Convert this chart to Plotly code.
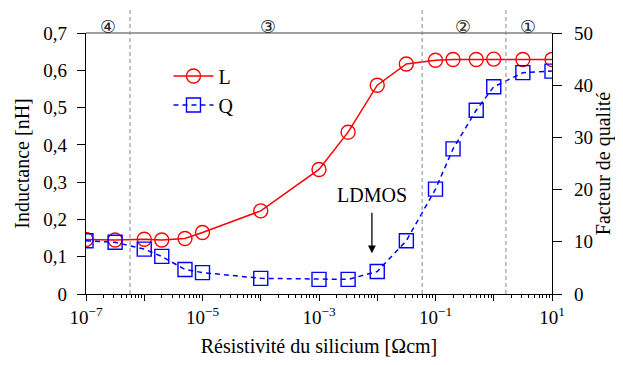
import plotly.graph_objects as go
import math

# Data
resistivity = [1e-7, 3.16e-7, 1e-6, 2e-6, 5e-6, 1e-5, 1e-4, 1e-3, 3.16e-3, 1e-2,
               3.16e-2, 0.1, 0.2, 0.5, 1, 3.16, 10]
inductance = [0.146, 0.145, 0.147, 0.145, 0.149, 0.165, 0.223, 0.334, 0.434, 0.560,
              0.617, 0.627, 0.629, 0.629, 0.630, 0.629, 0.629]
quality = [10.2, 9.9, 8.6, 7.2, 4.7, 4.1, 3.0, 2.8, 2.8, 4.3,
           10.2, 20.1, 27.8, 35.2, 39.7, 42.4, 42.7]

region_bounds = [5.7e-7, 0.059, 1.62]
region_labels = ["④", "③", "②", "①"]
region_label_pos = [2.4e-7, 1.35e-4, 0.30, 3.9]

x_tickvals = [1e-7, 1e-6, 1e-5, 1e-4, 1e-3, 1e-2, 1e-1, 1, 10]
x_ticktext = ["10<sup>−7</sup>", "", "10<sup>−5</sup>", "", "10<sup>−3</sup>", "",
              "10<sup>−1</sup>", "", "10<sup>1</sup>"]
yl_tickvals = [0, 0.1, 0.2, 0.3, 0.4, 0.5, 0.6, 0.7]
yl_ticktext = ["0", "0,1", "0,2", "0,3", "0,4", "0,5", "0,6", "0,7"]
yr_tickvals = [0, 10, 20, 30, 40, 50]

FONT = "Liberation Serif"

fig = go.Figure()
fig.add_trace(go.Scatter(
    x=resistivity, y=inductance, name="L", mode="lines+markers",
    line=dict(color="#ff0000", width=1.5),
    marker=dict(symbol="circle-open", size=14, color="#ff0000", line=dict(width=1.4)),
    yaxis="y"))
fig.add_trace(go.Scatter(
    x=resistivity, y=quality, name="Q", mode="lines+markers",
    line=dict(color="#0000ff", width=1.5, dash="5px,4px"),
    marker=dict(symbol="square-open", size=14, color="#0000ff", line=dict(width=1.4)),
    yaxis="y2"))

for xb in region_bounds:
    fig.add_shape(type="line", xref="x", yref="paper", x0=xb, x1=xb, y0=0, y1=1.13,
                  line=dict(color="#888888", width=1, dash="4px,3px"))
fig.add_shape(type="line", xref="paper", yref="paper", x0=0, x1=1, y0=1, y1=1,
              line=dict(color="#808080", width=1.3))

for lab, xp in zip(region_labels, region_label_pos):
    fig.add_annotation(x=math.log10(xp), y=1.073, xref="x", yref="paper", text=lab,
                       showarrow=False, font=dict(family="DejaVu Sans", size=18, color="#222"))

fig.add_annotation(x=math.log10(8.1e-3), y=7.8, xref="x", yref="y2", text="LDMOS",
                   showarrow=True, ax=0, ay=-58, arrowhead=2, arrowsize=1.2,
                   arrowwidth=1.3, arrowcolor="black", startstandoff=5,
                   font=dict(family=FONT, size=20, color="black"))

fig.update_layout(
    width=607, height=349,
    margin=dict(l=78, r=63, t=25, b=63),
    paper_bgcolor="white", plot_bgcolor="white",
    font=dict(family=FONT, size=18, color="black"),
    showlegend=True,
    legend=dict(x=0.177, y=0.91, xanchor="left", yanchor="top",
                bgcolor="rgba(0,0,0,0)", font=dict(family=FONT, size=20),
                tracegroupgap=0, itemwidth=40),
    xaxis=dict(type="log", range=[-7, 1], tickmode="array",
               tickvals=x_tickvals, ticktext=x_ticktext, automargin=False,
               ticks="outside", ticklen=6, tickwidth=1.2, tickcolor="black",
               showline=True, linecolor="black", linewidth=1.3,
               showgrid=False, zeroline=False,
               minor=dict(ticks="outside", ticklen=3, tickwidth=1, tickcolor="black",
                          dtick="D1", showgrid=False),
               title=dict(text="Résistivité du silicium [Ωcm]", font=dict(size=20), standoff=17),
               tickfont=dict(size=19)),
    yaxis=dict(range=[0, 0.7], tickmode="array", tickvals=yl_tickvals,
               ticktext=yl_ticktext, automargin=False, ticklabelstandoff=6,
               ticks="outside", ticklen=8, tickwidth=1.2, tickcolor="black",
               showline=True, linecolor="black", linewidth=1.3,
               showgrid=False, zeroline=False,
               title=dict(text="Inductance [nH]", font=dict(size=20), standoff=8),
               tickfont=dict(size=19)),
    yaxis2=dict(range=[0, 50], tickmode="array", tickvals=yr_tickvals,
                overlaying="y", side="right", automargin=False, ticklabelstandoff=8,
                ticks="outside", ticklen=9, tickwidth=1.2, tickcolor="black",
                showline=True, linecolor="black", linewidth=1.3,
                showgrid=False, zeroline=False,
                title=dict(text="Facteur de qualité", font=dict(size=20), standoff=0),
                tickfont=dict(size=19)),
)
fig.write_html("out.html")
